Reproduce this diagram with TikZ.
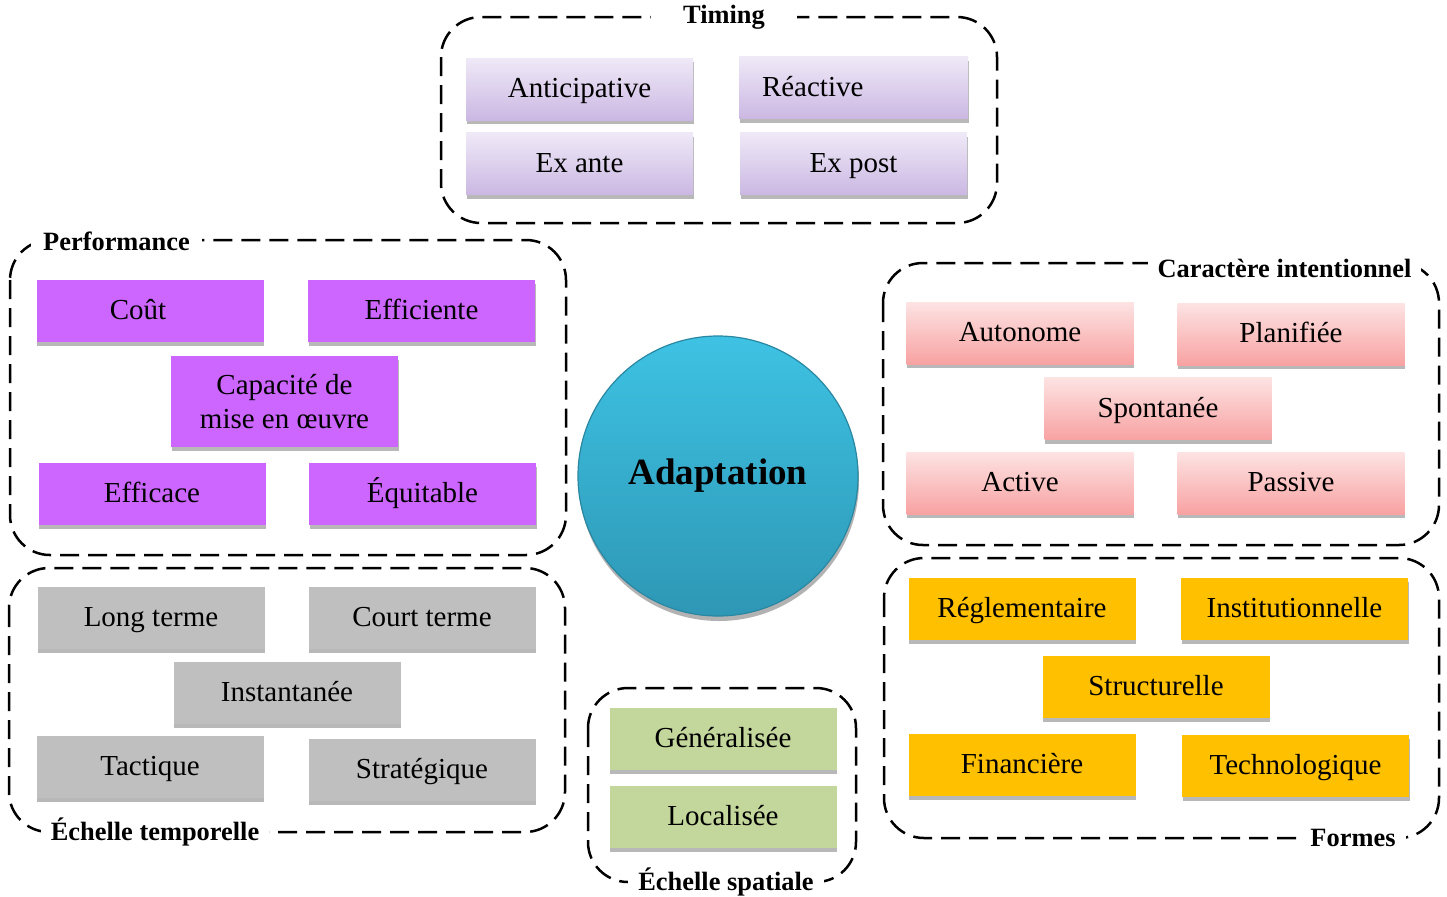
\documentclass[tikz,border=0pt]{standalone}
\usepackage{fontspec}
\setmainfont{Liberation Serif}
\usetikzlibrary{shadows}
\definecolor{lavtop}{HTML}{EFE9F7}
\definecolor{lavbot}{HTML}{CBB8E3}
\definecolor{purp}{HTML}{CC66FF}
\definecolor{grayb}{HTML}{BFBFBF}
\definecolor{greenb}{HTML}{C3D69B}
\definecolor{orangeb}{HTML}{FFC000}
\definecolor{pinktop}{HTML}{FDE3E3}
\definecolor{pinkbot}{HTML}{F8A2A2}
\definecolor{cyantop}{HTML}{3EC2E3}
\definecolor{cyanbot}{HTML}{2E97B5}
\definecolor{cyanedge}{HTML}{2A87A2}
\tikzset{
  boxbase/.style={rectangle, minimum width=113.5pt, minimum height=31pt, inner sep=2pt,
    font=\fontsize{14.5}{17}\selectfont, align=center, text height=11pt, text depth=2.5pt,
    drop shadow={shadow xshift=0.4pt, shadow yshift=-2pt, opacity=0.28, fill=black}},
  lavbox/.style={boxbase, top color=lavtop, bottom color=lavbot},
  purbox/.style={boxbase, fill=purp},
  graybox/.style={boxbase, fill=grayb},
  greenbox/.style={boxbase, fill=greenb},
  pinkbox/.style={boxbase, top color=pinktop, bottom color=pinkbot},
  orabox/.style={boxbase, fill=orangeb},
  grp/.style={draw=black, line width=1.25pt, dash pattern=on 9.5pt off 4.5pt, rounded corners=20pt},
  glabel/.style={fill=white, font=\fontsize{13.2}{15}\selectfont\bfseries, inner ysep=1pt, inner xsep=5pt},
}
\begin{document}
\begin{tikzpicture}[x=0.5pt,y=-0.5pt]
\useasboundingbox (0,0) rectangle (1447,896);

% ---------- Timing ----------
\draw[grp] (441,17) rectangle (997,223);
\node[glabel, inner xsep=16pt] (ltiming) at (724,17) {Timing};
\node[lavbox] (antic) at (579.5,89) {Anticipative};
\node[lavbox, text width=91.5pt, inner xsep=11.5pt, align=left] (react) at (853.5,87.5) {Réactive};
\node[lavbox] (exante) at (579.5,163.5) {Ex ante};
\node[lavbox] (expost) at (853.5,163.5) {Ex post};

% ---------- Performance ----------
\draw[grp] (10,240) rectangle (566,555);
\node[glabel, inner xsep=6pt] (lperf) at (116.5,241) {Performance};
\node[purbox] (cout) at (150,310.5) {Coût\hspace*{12pt}};
\node[purbox] (effic) at (421.5,310.5) {Efficiente};
\node[purbox, minimum height=45.5pt, text height=, text depth=] (capac) at (284.5,401.5) {Capacité de\\mise en œuvre};
\node[purbox] (effica) at (152,493.5) {Efficace};
\node[purbox] (equit) at (422.5,493.5) {Équitable};

% ---------- Echelle temporelle ----------
\draw[grp] (9,568) rectangle (565,832);
\node[glabel, inner xsep=5pt] (ltemp) at (155,832) {Échelle temporelle};
\node[graybox] (long) at (151,617.5) {Long terme};
\node[graybox] (court) at (422,617.5) {Court terme};
\node[graybox] (inst) at (287,693) {Instantanée};
\node[graybox] (tact) at (150,767) {Tactique};
\node[graybox] (strat) at (422,770) {Stratégique};

% ---------- Echelle spatiale ----------
\draw[grp] (588,688) rectangle (856,882);
\node[glabel, inner xsep=5pt] (lspat) at (726,882) {Échelle spatiale};
\node[greenbox] (gener) at (723,738.5) {Généralisée};
\node[greenbox] (local) at (723,816.5) {Localisée};

% ---------- Caractere intentionnel ----------
\draw[grp] (883,263) rectangle (1439,545);
\node[glabel, inner xsep=5pt] (lcar) at (1284.5,268) {Caractère intentionnel};
\node[pinkbox] (auton) at (1020,333) {Autonome};
\node[pinkbox] (planif) at (1291,334) {Planifiée};
\node[pinkbox] (spont) at (1158,408.5) {Spontanée};
\node[pinkbox] (active) at (1020,483) {Active};
\node[pinkbox] (passive) at (1291,483) {Passive};

% ---------- Formes ----------
\draw[grp] (884,558) rectangle (1439,838);
\node[glabel, inner xsep=5pt] (lformes) at (1353,838) {Formes};
\node[orabox] (regl) at (1022,608.5) {Réglementaire};
\node[orabox] (instit) at (1294.5,608.5) {Institutionnelle};
\node[orabox] (struct) at (1156,686.5) {Structurelle};
\node[orabox] (financ) at (1022,764.5) {Financière};
\node[orabox] (techno) at (1295.5,765.5) {Technologique};

% ---------- Centre ----------
\node[circle, minimum size=280pt*0.5, inner sep=0pt, draw=cyanedge, line width=0.6pt,
      top color=cyantop, bottom color=cyanbot,
      drop shadow={shadow xshift=0.5pt, shadow yshift=-2.5pt, opacity=0.3, fill=black},
      font=\fontsize{18.5}{22}\selectfont\bfseries] (adapt) at (718,476) {Adaptation};
\end{tikzpicture}
\end{document}
